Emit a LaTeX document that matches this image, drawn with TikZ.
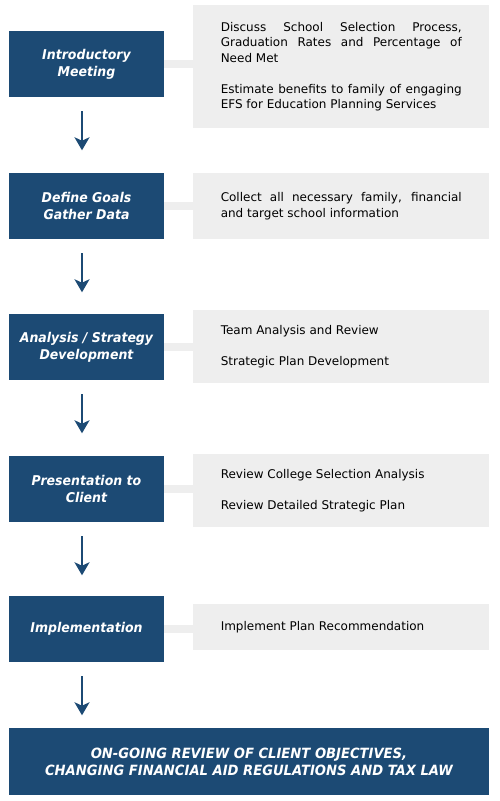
\documentclass[tikz,border=0pt]{standalone}
\usepackage{fontspec}
\setmainfont{DejaVu Sans}
\newfontfamily\boxfont[FakeStretch=0.93]{DejaVu Sans}
\usetikzlibrary{arrows.meta}
\definecolor{navy}{HTML}{1C4A74}
\definecolor{lgray}{HTML}{EEEEEE}
\begin{document}
\begin{tikzpicture}[x=0.75pt,y=-0.75pt,
 bluebox/.style={fill=navy, text=white, minimum width=155*0.75pt, minimum height=66*0.75pt, inner sep=0pt, align=center,
   font=\boxfont\fontsize{10.1pt}{12.75pt}\selectfont\bfseries\itshape},
 graybox/.style={fill=lgray, text=black, text width=241*0.75pt, inner xsep=27.5*0.75pt, inner ysep=0pt, align=justify,
   font=\fontsize{9pt}{11.6pt}\selectfont, anchor=west},
 bar/.style={draw=lgray, line width=8*0.75pt},
 arr/.style={draw=navy, line width=2.2*0.75pt, -{Stealth[length=13*0.75pt, width=15*0.75pt, inset=3.5*0.75pt]}}
]
\fill[white] (0,0) rectangle (500,801);
\useasboundingbox (0,0) rectangle (500,801);

% gray detail boxes
\node[graybox, minimum height=123*0.75pt] (g1) at (193,66.5)
 {Discuss School Selection Process,\linebreak Graduation Rates and Percentage of\linebreak Need Met\\[11.6pt]Estimate benefits to family of engaging\linebreak EFS for Education Planning Services};
\node[graybox, minimum height=66*0.75pt] (g2) at (193,206)
 {Collect all necessary family, financial\linebreak and target school information};
\node[graybox, minimum height=73*0.75pt] (g3) at (193,346.5)
 {Team Analysis and Review\\[11.6pt]Strategic Plan Development};
\node[graybox, minimum height=73*0.75pt] (g4) at (193,490.5)
 {Review College Selection Analysis\\[11.6pt]Review Detailed Strategic Plan};
\node[graybox, minimum height=46*0.75pt] (g5) at (193,627)
 {Implement Plan Recommendation};

% blue step boxes
\node[bluebox] (b1) at (86.5,64) {Introductory\\Meeting};
\node[bluebox] (b2) at (86.5,206) {Define Goals\\Gather Data};
\node[bluebox] (b3) at (86.5,347) {Analysis / Strategy\\Development};
\node[bluebox] (b4) at (86.5,489) {Presentation to\\Client};
\node[bluebox] (b5) at (86.5,629) {Implementation};
\node[bluebox, minimum width=480*0.75pt, minimum height=67*0.75pt,
      font=\boxfont\fontsize{10.6pt}{12.75pt}\selectfont\bfseries\itshape] (fin) at (249,761.5)
 {ON-GOING REVIEW OF CLIENT OBJECTIVES,\\CHANGING FINANCIAL AID REGULATIONS AND TAX LAW};

% connector bars
\foreach \i in {1,...,5}{
  \draw[bar] (b\i.east) -- (g\i.west |- b\i.east);
}

% arrows
\foreach \i in {1,...,5}{
  \coordinate (as\i) at ([shift={(-4.5,14)}]b\i.south);
  \coordinate (ae\i) at ([shift={(0,39)}]as\i);
  \draw[arr] (as\i) -- (ae\i);
}
\end{tikzpicture}
\end{document}
